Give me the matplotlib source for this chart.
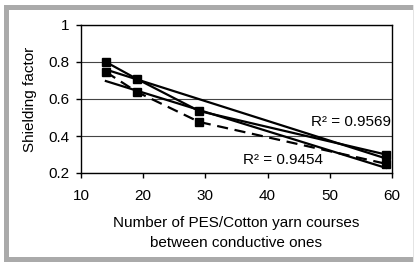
import numpy as np
import matplotlib
matplotlib.use("Agg")
import matplotlib.pyplot as plt
from matplotlib.patches import Rectangle

plt.rcParams['font.family'] = ['Liberation Sans', 'DejaVu Sans']

# data
courses = [14, 19, 29, 59]
series_a = [0.80, 0.708, 0.535, 0.30]
series_b = [0.746, 0.638, 0.476, 0.25]
r2_labels = ["R² = 0.9569", "R² = 0.9454"]
x_ticks = [10, 20, 30, 40, 50, 60]
y_ticks = [0.2, 0.4, 0.6, 0.8, 1.0]
y_ticklabels = ["0.2", "0.4", "0.6", "0.8", "1"]

W, H = 415, 262
fig = plt.figure(figsize=(W / 100, H / 100), dpi=100)
ax = fig.add_axes([81 / W, (H - 173) / H, 311 / W, 148 / H])

# grey frame round the chart
grey = '#aaaaaa'
fig.add_artist(Rectangle((4 / W, 0), 5 / W, (H - 5) / H, transform=fig.transFigure,
                         facecolor=grey, edgecolor='none'))
fig.add_artist(Rectangle((4 / W, (H - 10) / H), (W - 5) / W, 5 / H, transform=fig.transFigure,
                         facecolor=grey, edgecolor='none'))
fig.add_artist(Rectangle((4 / W, 0), (W - 5) / W, 5 / H, transform=fig.transFigure,
                         facecolor=grey, edgecolor='none'))
fig.add_artist(Rectangle((413 / W, 0), 1 / W, (H - 5) / H, transform=fig.transFigure,
                         facecolor='#e4e4e4', edgecolor='none'))

x = np.array(courses)
# linear trendlines
for ys in (series_a, series_b):
    k, b = np.polyfit(x, ys, 1)
    xs = np.array([x.min(), x.max()])
    ax.plot(xs, k * xs + b, color='black', lw=1.6, zorder=2)

ax.plot(courses, series_a, color='black', lw=1.6, marker='s', ms=6, zorder=3)
ax.plot(courses, series_b, color='black', lw=1.6, marker='s', ms=6,
        dashes=(5, 3), zorder=3)

ax.text(59.8, 0.476, r2_labels[0], ha='right', va='center', fontsize=11)
ax.text(36.1, 0.27, r2_labels[1], ha='left', va='center', fontsize=11)

ax.set_xlim(10, 60)
ax.set_ylim(0.2, 1.0)
ax.set_xticks(x_ticks)
ax.set_yticks(y_ticks)
ax.set_yticklabels(y_ticklabels)
ax.tick_params(axis='both', labelsize=11, direction='out', length=3.5, width=1)
ax.tick_params(axis='y', pad=5)
ax.tick_params(axis='x', pad=8)
ax.grid(axis='y', color='#444444', lw=0.8)
for s in ax.spines.values():
    s.set_linewidth(1)
    s.set_color('black')

fig.text(30 / W, (H - 99) / H, "Shielding factor", rotation=90,
         ha='center', va='center', fontsize=11)
fig.text(236 / W, 29 / H, "Number of PES/Cotton yarn courses\nbetween conductive ones",
         ha='center', va='center', fontsize=11, linespacing=1.5)

fig.savefig('out.png', dpi=100)
